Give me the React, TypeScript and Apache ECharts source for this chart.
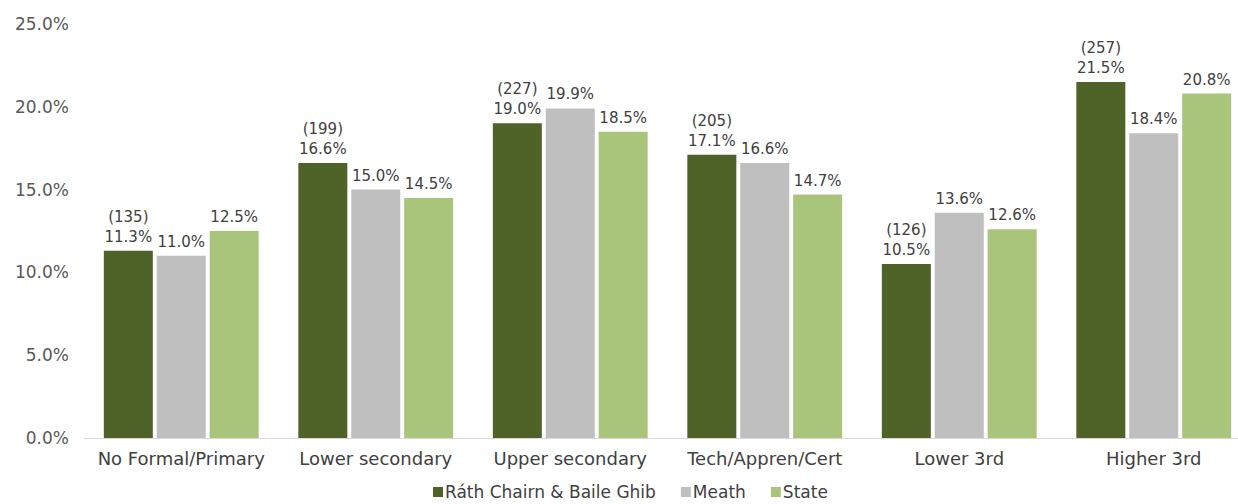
import React, { useEffect, useRef } from "react";
import * as echarts from "echarts";

const categories = ["No Formal/Primary", "Lower secondary", "Upper secondary", "Tech/Appren/Cert", "Lower 3rd", "Higher 3rd"];
const seriesNames = ["Ráth Chairn & Baile Ghib", "Meath", "State"];
const rathValues = [11.3, 16.6, 19.0, 17.1, 10.5, 21.5];
const rathCounts = [135, 199, 227, 205, 126, 257];
const meathValues = [11.0, 15.0, 19.9, 16.6, 13.6, 18.4];
const stateValues = [12.5, 14.5, 18.5, 14.7, 12.6, 20.8];
const colors = ["#4f6228", "#bfbfbf", "#a9c47b"];

const FONT = "'DejaVu Sans', sans-serif";

export default function App() {
  const ref = useRef<HTMLDivElement>(null);
  useEffect(() => {
    if (!ref.current) return;
    const chart = echarts.init(ref.current, undefined, { renderer: "svg" });
    const labelBase = {
      show: true,
      position: "top" as const,
      distance: 4,
      color: "#404040",
      fontSize: 15,
      fontFamily: FONT,
      lineHeight: 20,
    };
    chart.setOption({
      animation: false,
      textStyle: { fontFamily: FONT },
      grid: { left: 84, top: 24, width: 1167, height: 414, containLabel: false },
      legend: {
        top: 478,
        left: 428,
        itemWidth: 10,
        itemHeight: 10,
        itemGap: 25,
        icon: "rect",
        textStyle: { fontSize: 17, lineHeight: 18, color: "#404040", fontFamily: FONT, padding: [0, 0, 0, -3] },
        data: seriesNames,
      },
      xAxis: {
        type: "category",
        data: categories,
        axisLine: { lineStyle: { color: "#d9d9d9", width: 1 } },
        axisTick: { show: false },
        axisLabel: { interval: 0, hideOverlap: false, color: "#404040", fontSize: 18, fontFamily: FONT, margin: 11 },
      },
      yAxis: {
        type: "value",
        min: 0,
        max: 25,
        interval: 5,
        splitLine: { show: false },
        axisLine: { show: false },
        axisTick: { show: false },
        axisLabel: {
          color: "#595959",
          fontSize: 17,
          fontFamily: FONT,
          margin: 15,
          formatter: (v: number) => v.toFixed(1) + "%",
        },
      },
      series: [
        {
          name: seriesNames[0],
          type: "bar",
          data: rathValues,
          barWidth: 49,
          barGap: "8%",
          itemStyle: { color: colors[0] },
          label: {
            ...labelBase,
            formatter: (p: any) => "(" + rathCounts[p.dataIndex] + ")\n" + p.value.toFixed(1) + "%",
          },
        },
        {
          name: seriesNames[1],
          type: "bar",
          data: meathValues,
          barWidth: 49,
          barGap: "8%",
          itemStyle: { color: colors[1] },
          label: { ...labelBase, formatter: (p: any) => p.value.toFixed(1) + "%" },
        },
        {
          name: seriesNames[2],
          type: "bar",
          data: stateValues,
          barWidth: 49,
          barGap: "8%",
          itemStyle: { color: colors[2] },
          label: { ...labelBase, formatter: (p: any) => p.value.toFixed(1) + "%" },
        },
      ],
    });
    return () => chart.dispose();
  }, []);
  return (
    <div style={{ position: "fixed", left: 0, top: 0, width: 1238, height: 504, overflow: "hidden", background: "#fff" }}>
      <div ref={ref} style={{ width: 1260, height: 504 }} />
    </div>
  );
}
